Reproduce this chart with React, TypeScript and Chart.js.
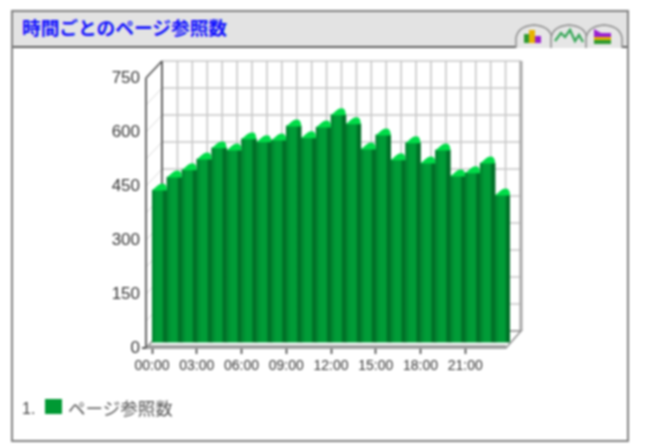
import React, { useEffect, useRef } from "react";
import { Chart, registerables } from "chart.js";

Chart.register(...registerables);

const TITLE = "時間ごとのページ参照数";
const SERIES_NAME = "ページ参照数";
const hours = [0, 1, 2, 3, 4, 5, 6, 7, 8, 9, 10, 11, 12, 13, 14, 15, 16, 17, 18, 19, 20, 21, 22, 23];
const views = [439, 475, 495, 525, 556, 550, 581, 573, 578, 617, 584, 614, 648, 623, 553, 592, 523, 570, 514, 550, 478, 487, 514, 425];
const yMax = 750;
const yLabelStep = 150;
const wallStep = 75;

const FONT = "'Liberation Sans', Arial, sans-serif";
const CJK = "'Noto Sans CJK JP', sans-serif";

const wall3d = {
  id: "wall3d",
  beforeDatasetsDraw(chart: any) {
    const { ctx } = chart;
    const x = chart.scales.x;
    const y = chart.scales.y;
    const dx = 10.5;
    const dy = -17;
    const left = 146;
    const backLeft = left + 16;
    const backRight = x.getPixelForValue(24) + 11;
    const backBottom = y.getPixelForValue(0) + dy;
    const backTop = y.getPixelForValue(yMax) + dy;
    const frontBottom = y.getPixelForValue(0);
    ctx.save();
    ctx.fillStyle = "#ffffff";
    ctx.fillRect(backLeft, backTop, backRight - backLeft, backBottom - backTop);
    ctx.strokeStyle = "#c8c8c8";
    ctx.lineWidth = 1.6;
    ctx.beginPath();
    for (let h = 0; h <= 24; h++) {
      const px = h === 0 ? backLeft : x.getPixelForValue(h) + dx;
      ctx.moveTo(px, backTop);
      ctx.lineTo(px, backBottom);
    }
    for (let v = 0; v <= yMax; v += wallStep) {
      const py = y.getPixelForValue(v) + dy;
      ctx.moveTo(backLeft, py);
      ctx.lineTo(backRight, py);
    }
    ctx.stroke();
    ctx.strokeStyle = "#d8d8d8";
    ctx.lineWidth = 1;
    ctx.beginPath();
    for (let v = 0; v < yMax; v += wallStep) {
      const py = y.getPixelForValue(v);
      ctx.moveTo(left, py);
      ctx.lineTo(backLeft, py + dy);
    }
    ctx.stroke();
    // right wall edge
    ctx.strokeStyle = "#a8a8a8";
    ctx.lineWidth = 3;
    ctx.beginPath();
    ctx.moveTo(backRight, backTop);
    ctx.lineTo(backRight, backBottom);
    ctx.stroke();
    // floor
    ctx.fillStyle = "#ffffff";
    ctx.strokeStyle = "#8c8c8c";
    ctx.lineWidth = 1.5;
    ctx.beginPath();
    ctx.moveTo(left, frontBottom);
    ctx.lineTo(backLeft, backBottom);
    ctx.lineTo(backRight, backBottom);
    ctx.lineTo(backRight - 15, frontBottom);
    ctx.closePath();
    ctx.fill();
    ctx.stroke();
    ctx.fillStyle = "#a0a0a0";
    ctx.fillRect(left, frontBottom - 3, backRight - 15 - left, 3.5);
    // left axis
    ctx.strokeStyle = "#555555";
    ctx.lineWidth = 1.8;
    ctx.beginPath();
    ctx.moveTo(backLeft, backTop);
    ctx.lineTo(backLeft, backBottom);
    ctx.moveTo(left, y.getPixelForValue(yMax));
    ctx.lineTo(left, frontBottom);
    ctx.moveTo(left, y.getPixelForValue(yMax));
    ctx.lineTo(backLeft, backTop);
    ctx.moveTo(left - 4, frontBottom);
    ctx.lineTo(left, frontBottom);
    ctx.stroke();
    ctx.restore();
  },
  afterDatasetsDraw(chart: any) {
    const { ctx } = chart;
    const meta = chart.getDatasetMeta(0);
    ctx.save();
    ctx.fillStyle = "#00dc48";
    meta.data.forEach((bar: any) => {
      const x0 = bar.x - bar.width / 2;
      const x1 = bar.x + bar.width / 2;
      const top = bar.y;
      ctx.beginPath();
      ctx.moveTo(x0, top + 0.5);
      ctx.lineTo(x0 + 5, top - 4);
      ctx.quadraticCurveTo(x0 + 9, top - 7.5, x1 - 2, top - 6);
      ctx.quadraticCurveTo(x1, top - 4, x1, top + 0.5);
      ctx.closePath();
      ctx.fill();
    });
    ctx.restore();
  },
};

function Tab({ left, children }: { left: number; children: React.ReactNode }) {
  return (
    <svg width={38} height={24} style={{ position: "absolute", left, top: 24 }}>
      <path d="M1 24 V14 Q3 2 19 1 Q35 2 37 14 V24" fill="#e6e6e6" stroke="#8c8c8c" strokeWidth={1.5} />
      {children}
    </svg>
  );
}

export default function App() {
  const ref = useRef<HTMLCanvasElement>(null);
  useEffect(() => {
    const chart = new Chart(ref.current as HTMLCanvasElement, {
      type: "bar",
      data: {
        datasets: [
          {
            label: SERIES_NAME,
            data: hours.map((h, i) => ({ x: h + 0.5, y: views[i] })),
            base: 16,
            barPercentage: 1,
            categoryPercentage: 1,
            borderWidth: 0,
            backgroundColor: (c: any) => {
              const s = c.chart.scales.x;
              const i = c.dataIndex ?? 0;
              if (!s || s.left === undefined) return "#009933";
              const a = s.getPixelForValue(i);
              const b = s.getPixelForValue(i + 1);
              const g = c.chart.ctx.createLinearGradient(a, 0, b, 0);
              g.addColorStop(0, "#007f2d");
              g.addColorStop(0.3, "#009c37");
              g.addColorStop(0.65, "#009c37");
              g.addColorStop(0.8, "#006f27");
              g.addColorStop(1, "#006f27");
              return g;
            },
          },
        ],
      } as any,
      options: {
        animation: false,
        responsive: false,
        layout: { padding: { top: 78, right: 141, left: 0, bottom: 0 } },
        plugins: { legend: { display: false }, title: { display: false }, tooltip: { enabled: false } },
        scales: {
          x: {
            type: "linear",
            offset: false,
            min: 0,
            max: 24,
            afterFit: (s: any) => { s.height = 97; s.paddingLeft = 0; s.paddingRight = 0; },
            afterBuildTicks: (s: any) => { s.ticks = s.ticks.filter((t: any) => t.value < 24); },
            grid: { offset: false, drawOnChartArea: false, drawTicks: true, tickLength: 6, tickWidth: 1.5, tickColor: "#333333" },
            border: { display: false },
            ticks: {
              stepSize: 3,
              autoSkip: false,
              maxRotation: 0,
              padding: 4,
              color: "#333333",
              font: { family: FONT, size: 14 },
              callback: (v: any) => `${String(v).padStart(2, "0")}:00`,
            },
          },
          y: {
            min: 0,
            max: yMax,
            afterFit: (s: any) => { s.width = 152; },
            grid: { display: false, drawTicks: false },
            border: { display: false },
            ticks: {
              stepSize: yLabelStep,
              padding: 12,
              color: "#333333",
              font: { family: FONT, size: 17 },
            },
          },
        },
      } as any,
      plugins: [wall3d],
    });
    return () => chart.destroy();
  }, []);

  return (
    <div style={{ position: "fixed", left: 0, top: 0, width: 651, height: 445, background: "#fff", overflow: "hidden", filter: "blur(0.8px)" }}>
      <div style={{ position: "absolute", left: 11, top: 10, width: 614, height: 428, border: "2px solid #808080" }} />
      <div style={{ position: "absolute", left: 13, top: 12, width: 614, height: 34, background: "#e3e3e3", borderBottom: "2px solid #606060" }} />
      <div style={{ position: "absolute", left: 22, top: 14, fontFamily: CJK, fontWeight: 700, fontSize: 18.7, lineHeight: "26px", color: "#1010ff", whiteSpace: "nowrap" }}>{TITLE}</div>
      <Tab left={515}>
        <rect x={9} y={10} width={6} height={9} fill="#2f9a2f" />
        <rect x={14} y={6} width={6} height={13} fill="#e6b400" />
        <rect x={20} y={12} width={6} height={7} fill="#9a1fd0" />
      </Tab>
      <Tab left={550}>
        <path d="M5 17 L11 9 L15 13 L20 6 L25 17 L29 11 L33 18" fill="none" stroke="#3aa85a" strokeWidth={2.4} />
      </Tab>
      <Tab left={585}>
        <path d="M9 5 L16 9 L26 9 V14 H9 Z" fill="#9a1fd0" />
        <rect x={9} y={13} width={17} height={3} fill="#e6b400" />
        <path d="M9 16 H26 V20 H9 Z" fill="#2f9a2f" />
      </Tab>
      <canvas ref={ref} width={651} height={445} style={{ position: "absolute", left: 0, top: 0 }} />
      <div style={{ position: "absolute", left: 22, top: 399, fontFamily: FONT, fontSize: 16, lineHeight: "20px", color: "#444" }}>1.</div>
      <div style={{ position: "absolute", left: 45, top: 399, width: 17, height: 15, background: "#009933" }} />
      <div style={{ position: "absolute", left: 68, top: 396, fontFamily: CJK, fontSize: 17.5, lineHeight: "24px", color: "#555", whiteSpace: "nowrap" }}>{SERIES_NAME}</div>
    </div>
  );
}
